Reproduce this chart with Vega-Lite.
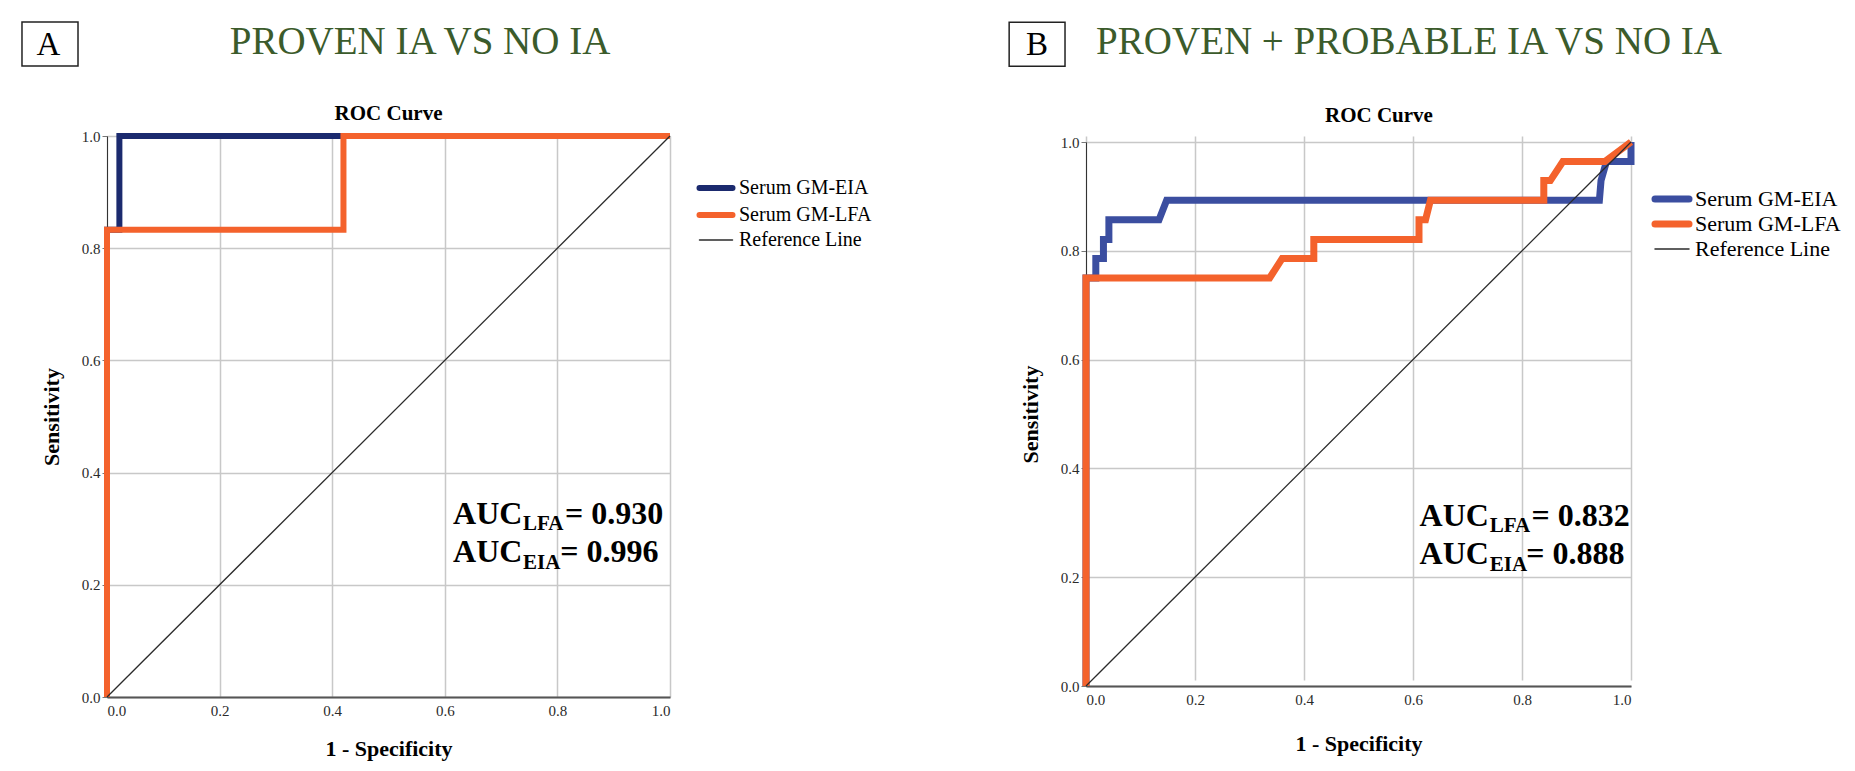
{
  "$schema": "https://vega.github.io/schema/vega-lite/v6.json",
  "background": "white",
  "padding": {"left": 21, "top": 21, "right": 5, "bottom": 5},
  "config": {
    "font": "Liberation Serif",
    "view": {"stroke": null},
    "axis": {
      "labelFont": "Liberation Serif",
      "labelFontSize": 15,
      "labelColor": "#2a2a2a",
      "titleFont": "Liberation Serif",
      "titleFontSize": 22,
      "titleFontWeight": "bold",
      "titleColor": "#000000",
      "gridColor": "#c8c8c8",
      "gridWidth": 1.5
    },
    "legend": {
      "labelFont": "Liberation Serif",
      "labelColor": "#000000",
      "labelLimit": 0
    }
  },
  "datasets": {
    "rocA": [
      {"series": "Serum GM-EIA", "step": 0, "fpr": 0, "tpr": 0},
      {"series": "Serum GM-EIA", "step": 1, "fpr": 0, "tpr": 0.833},
      {"series": "Serum GM-EIA", "step": 2, "fpr": 0.022, "tpr": 0.833},
      {"series": "Serum GM-EIA", "step": 3, "fpr": 0.022, "tpr": 1},
      {"series": "Serum GM-EIA", "step": 4, "fpr": 1, "tpr": 1},
      {"series": "Serum GM-LFA", "step": 0, "fpr": 0, "tpr": 0},
      {"series": "Serum GM-LFA", "step": 1, "fpr": 0, "tpr": 0.833},
      {"series": "Serum GM-LFA", "step": 2, "fpr": 0.42, "tpr": 0.833},
      {"series": "Serum GM-LFA", "step": 3, "fpr": 0.42, "tpr": 1},
      {"series": "Serum GM-LFA", "step": 4, "fpr": 1, "tpr": 1},
      {"series": "Reference Line", "step": 0, "fpr": 0, "tpr": 0},
      {"series": "Reference Line", "step": 1, "fpr": 1, "tpr": 1}
    ],
    "rocB": [
      {"series": "Serum GM-EIA", "step": 0, "fpr": 0, "tpr": 0},
      {"series": "Serum GM-EIA", "step": 1, "fpr": 0, "tpr": 0.75},
      {"series": "Serum GM-EIA", "step": 2, "fpr": 0.018, "tpr": 0.75},
      {"series": "Serum GM-EIA", "step": 3, "fpr": 0.018, "tpr": 0.786},
      {"series": "Serum GM-EIA", "step": 4, "fpr": 0.032, "tpr": 0.786},
      {"series": "Serum GM-EIA", "step": 5, "fpr": 0.032, "tpr": 0.821},
      {"series": "Serum GM-EIA", "step": 6, "fpr": 0.042, "tpr": 0.821},
      {"series": "Serum GM-EIA", "step": 7, "fpr": 0.042, "tpr": 0.857},
      {"series": "Serum GM-EIA", "step": 8, "fpr": 0.134, "tpr": 0.857},
      {"series": "Serum GM-EIA", "step": 9, "fpr": 0.148, "tpr": 0.893},
      {"series": "Serum GM-EIA", "step": 10, "fpr": 0.942, "tpr": 0.893},
      {"series": "Serum GM-EIA", "step": 11, "fpr": 0.945, "tpr": 0.929},
      {"series": "Serum GM-EIA", "step": 12, "fpr": 0.955, "tpr": 0.964},
      {"series": "Serum GM-EIA", "step": 13, "fpr": 1, "tpr": 0.964},
      {"series": "Serum GM-EIA", "step": 14, "fpr": 1, "tpr": 1},
      {"series": "Serum GM-LFA", "step": 0, "fpr": 0, "tpr": 0},
      {"series": "Serum GM-LFA", "step": 1, "fpr": 0, "tpr": 0.75},
      {"series": "Serum GM-LFA", "step": 2, "fpr": 0.337, "tpr": 0.75},
      {"series": "Serum GM-LFA", "step": 3, "fpr": 0.36, "tpr": 0.786},
      {"series": "Serum GM-LFA", "step": 4, "fpr": 0.418, "tpr": 0.786},
      {"series": "Serum GM-LFA", "step": 5, "fpr": 0.418, "tpr": 0.821},
      {"series": "Serum GM-LFA", "step": 6, "fpr": 0.611, "tpr": 0.821},
      {"series": "Serum GM-LFA", "step": 7, "fpr": 0.611, "tpr": 0.857},
      {"series": "Serum GM-LFA", "step": 8, "fpr": 0.623, "tpr": 0.857},
      {"series": "Serum GM-LFA", "step": 9, "fpr": 0.632, "tpr": 0.893},
      {"series": "Serum GM-LFA", "step": 10, "fpr": 0.84, "tpr": 0.893},
      {"series": "Serum GM-LFA", "step": 11, "fpr": 0.84, "tpr": 0.929},
      {"series": "Serum GM-LFA", "step": 12, "fpr": 0.852, "tpr": 0.929},
      {"series": "Serum GM-LFA", "step": 13, "fpr": 0.875, "tpr": 0.964},
      {"series": "Serum GM-LFA", "step": 14, "fpr": 0.952, "tpr": 0.964},
      {"series": "Serum GM-LFA", "step": 15, "fpr": 1, "tpr": 1},
      {"series": "Reference Line", "step": 0, "fpr": 0, "tpr": 0},
      {"series": "Reference Line", "step": 1, "fpr": 1, "tpr": 1}
    ]
  },
  "concat": [
    {
      "width": 563,
      "height": 561,
      "layer": [
        {
          "data": {"name": "rocA"},
          "transform": [{"filter": {"field": "series", "equal": "Serum GM-EIA"}}],
          "mark": {"type": "line", "strokeWidth": 6, "strokeJoin": "miter"},
          "encoding": {
            "x": {"field": "fpr", "type": "quantitative", "title": "1 - Specificity",
                  "scale": {"domain": [0, 1], "nice": false},
                  "axis": {"values": [0, 0.2, 0.4, 0.6, 0.8, 1.0], "format": ".1f", "ticks": false, "labelPadding": 6, "titlePadding": 20, "domainColor": "#555555", "domainWidth": 2}},
            "y": {"field": "tpr", "type": "quantitative", "title": "Sensitivity",
                  "scale": {"domain": [0, 1], "nice": false},
                  "axis": {"values": [0, 0.2, 0.4, 0.6, 0.8, 1.0], "format": ".1f", "tickSize": 5, "tickColor": "#777777", "labelPadding": 2, "titlePadding": 18, "domainColor": "#333333", "domainWidth": 1}},
            "order": {"field": "step", "type": "quantitative"},
            "color": {"field": "series", "type": "nominal",
                      "scale": {"domain": ["Serum GM-EIA", "Serum GM-LFA", "Reference Line"], "range": ["#1b2a6e", "#f4622c", "#2b2b2b"]},
                      "legend": {"title": null, "orient": "none", "legendX": 599, "legendY": 42, "symbolType": "stroke", "symbolSize": 1089, "symbolStrokeWidth": 6, "labelFontSize": 20, "labelOffset": 13, "rowPadding": 3,
                                 "encode": {"symbols": {"update": {"strokeCap": {"value": "round"}, "strokeWidth": {"signal": "datum.value === 'Reference Line' ? 1.5 : 6"}}}}}}
          }
        },
        {
          "data": {"name": "rocA"},
          "transform": [{"filter": {"field": "series", "equal": "Serum GM-LFA"}}],
          "mark": {"type": "line", "strokeWidth": 6, "strokeJoin": "miter"},
          "encoding": {
            "x": {"field": "fpr", "type": "quantitative"},
            "y": {"field": "tpr", "type": "quantitative"},
            "order": {"field": "step", "type": "quantitative"},
            "color": {"field": "series", "type": "nominal"}
          }
        },
        {
          "data": {"name": "rocA"},
          "transform": [{"filter": {"field": "series", "equal": "Reference Line"}}],
          "mark": {"type": "line", "strokeWidth": 1.3},
          "encoding": {
            "x": {"field": "fpr", "type": "quantitative"},
            "y": {"field": "tpr", "type": "quantitative"},
            "order": {"field": "step", "type": "quantitative"},
            "color": {"field": "series", "type": "nominal"}
          }
        },
        {
          "data": {"values": [{}]},
          "mark": {"type": "rect", "fill": "white", "stroke": "#222222", "strokeWidth": 1.5},
          "encoding": {"x": {"datum": -0.151}, "x2": {"datum": -0.0515}, "y": {"datum": 1.2032}, "y2": {"datum": 1.1248}}
        },
        {
          "data": {"values": [{}]},
          "mark": {"type": "text", "text": "A", "fontSize": 33, "align": "center", "baseline": "alphabetic", "color": "#000000"},
          "encoding": {"x": {"datum": -0.1039}, "y": {"datum": 1.1444}}
        },
        {
          "data": {"values": [{}]},
          "mark": {"type": "text", "text": "PROVEN IA VS NO IA", "fontSize": 39, "align": "center", "baseline": "alphabetic", "color": "#3b5b2b"},
          "encoding": {"x": {"datum": 0.556}, "y": {"datum": 1.1462}}
        },
        {
          "data": {"values": [{}]},
          "mark": {"type": "text", "text": "ROC Curve", "fontSize": 21, "fontWeight": "bold", "align": "center", "baseline": "alphabetic", "color": "#000000"},
          "encoding": {"x": {"datum": 0.5}, "y": {"datum": 1.0287}}
        },
        {
          "data": {"values": [{}]},
          "mark": {"type": "text", "text": "AUC", "fontSize": 32, "fontWeight": "bold", "align": "left", "baseline": "alphabetic", "color": "#000000"},
          "encoding": {"x": {"datum": 0.6146}, "y": {"datum": 0.308}}
        },
        {
          "data": {"values": [{}]},
          "mark": {"type": "text", "text": "LFA", "fontSize": 21, "fontWeight": "bold", "align": "left", "baseline": "alphabetic", "color": "#000000"},
          "encoding": {"x": {"datum": 0.739}, "y": {"datum": 0.297}}
        },
        {
          "data": {"values": [{}]},
          "mark": {"type": "text", "text": "= 0.930", "fontSize": 32, "fontWeight": "bold", "align": "left", "baseline": "alphabetic", "color": "#000000"},
          "encoding": {"x": {"datum": 0.8135}, "y": {"datum": 0.308}}
        },
        {
          "data": {"values": [{}]},
          "mark": {"type": "text", "text": "AUC", "fontSize": 32, "fontWeight": "bold", "align": "left", "baseline": "alphabetic", "color": "#000000"},
          "encoding": {"x": {"datum": 0.6146}, "y": {"datum": 0.241}}
        },
        {
          "data": {"values": [{}]},
          "mark": {"type": "text", "text": "EIA", "fontSize": 21, "fontWeight": "bold", "align": "left", "baseline": "alphabetic", "color": "#000000"},
          "encoding": {"x": {"datum": 0.739}, "y": {"datum": 0.229}}
        },
        {
          "data": {"values": [{}]},
          "mark": {"type": "text", "text": "= 0.996", "fontSize": 32, "fontWeight": "bold", "align": "left", "baseline": "alphabetic", "color": "#000000"},
          "encoding": {"x": {"datum": 0.805}, "y": {"datum": 0.241}}
        }
      ]
    },
    {
      "width": 545,
      "height": 550,
      "layer": [
        {
          "data": {"name": "rocB"},
          "transform": [{"filter": {"field": "series", "equal": "Serum GM-EIA"}}],
          "mark": {"type": "line", "strokeWidth": 7, "strokeJoin": "miter"},
          "encoding": {
            "x": {"field": "fpr", "type": "quantitative", "title": "1 - Specificity",
                  "scale": {"domain": [0, 1], "nice": false},
                  "axis": {"values": [0, 0.2, 0.4, 0.6, 0.8, 1.0], "format": ".1f", "ticks": false, "labelPadding": 6, "titlePadding": 26, "domainColor": "#555555", "domainWidth": 2}},
            "y": {"field": "tpr", "type": "quantitative", "title": "Sensitivity",
                  "scale": {"domain": [0, 1], "nice": false, "range": [550, 6]},
                  "axis": {"values": [0, 0.2, 0.4, 0.6, 0.8, 1.0], "format": ".1f", "tickSize": 5, "tickColor": "#777777", "labelPadding": 2, "titlePadding": 18, "domainColor": "#333333", "domainWidth": 1}},
            "order": {"field": "step", "type": "quantitative"},
            "color": {"field": "series", "type": "nominal",
                      "scale": {"domain": ["Serum GM-EIA", "Serum GM-LFA", "Reference Line"], "range": ["#3b4ea0", "#f4622c", "#2b2b2b"]},
                      "legend": {"title": null, "orient": "none", "legendX": 575, "legendY": 52, "symbolType": "stroke", "symbolSize": 1156, "symbolStrokeWidth": 7, "labelFontSize": 22, "labelOffset": 12, "rowPadding": -3.5,
                                 "encode": {"symbols": {"update": {"strokeCap": {"value": "round"}, "strokeWidth": {"signal": "datum.value === 'Reference Line' ? 1.5 : 7"}}}}}}
          }
        },
        {
          "data": {"name": "rocB"},
          "transform": [{"filter": {"field": "series", "equal": "Serum GM-LFA"}}],
          "mark": {"type": "line", "strokeWidth": 7, "strokeJoin": "miter"},
          "encoding": {
            "x": {"field": "fpr", "type": "quantitative"},
            "y": {"field": "tpr", "type": "quantitative"},
            "order": {"field": "step", "type": "quantitative"},
            "color": {"field": "series", "type": "nominal"}
          }
        },
        {
          "data": {"name": "rocB"},
          "transform": [{"filter": {"field": "series", "equal": "Reference Line"}}],
          "mark": {"type": "line", "strokeWidth": 1.3},
          "encoding": {
            "x": {"field": "fpr", "type": "quantitative"},
            "y": {"field": "tpr", "type": "quantitative"},
            "order": {"field": "step", "type": "quantitative"},
            "color": {"field": "series", "type": "nominal"}
          }
        },
        {
          "data": {"values": [{}]},
          "mark": {"type": "rect", "fill": "white", "stroke": "#222222", "strokeWidth": 1.5},
          "encoding": {"x": {"datum": -0.141}, "x2": {"datum": -0.0385}, "y": {"datum": 1.2200}, "y2": {"datum": 1.1392}}
        },
        {
          "data": {"values": [{}]},
          "mark": {"type": "text", "text": "B", "fontSize": 33, "align": "center", "baseline": "alphabetic", "color": "#000000"},
          "encoding": {"x": {"datum": -0.0897}, "y": {"datum": 1.1594}}
        },
        {
          "data": {"values": [{}]},
          "mark": {"type": "text", "text": "PROVEN + PROBABLE IA VS NO IA", "fontSize": 39, "align": "center", "baseline": "alphabetic", "color": "#3b5b2b"},
          "encoding": {"x": {"datum": 0.5927}, "y": {"datum": 1.1612}}
        },
        {
          "data": {"values": [{}]},
          "mark": {"type": "text", "text": "ROC Curve", "fontSize": 21, "fontWeight": "bold", "align": "center", "baseline": "alphabetic", "color": "#000000"},
          "encoding": {"x": {"datum": 0.5376}, "y": {"datum": 1.036}}
        },
        {
          "data": {"values": [{}]},
          "mark": {"type": "text", "text": "AUC", "fontSize": 32, "fontWeight": "bold", "align": "left", "baseline": "alphabetic", "color": "#000000"},
          "encoding": {"x": {"datum": 0.612}, "y": {"datum": 0.294}}
        },
        {
          "data": {"values": [{}]},
          "mark": {"type": "text", "text": "LFA", "fontSize": 21, "fontWeight": "bold", "align": "left", "baseline": "alphabetic", "color": "#000000"},
          "encoding": {"x": {"datum": 0.741}, "y": {"datum": 0.283}}
        },
        {
          "data": {"values": [{}]},
          "mark": {"type": "text", "text": "= 0.832", "fontSize": 32, "fontWeight": "bold", "align": "left", "baseline": "alphabetic", "color": "#000000"},
          "encoding": {"x": {"datum": 0.8176}, "y": {"datum": 0.294}}
        },
        {
          "data": {"values": [{}]},
          "mark": {"type": "text", "text": "AUC", "fontSize": 32, "fontWeight": "bold", "align": "left", "baseline": "alphabetic", "color": "#000000"},
          "encoding": {"x": {"datum": 0.612}, "y": {"datum": 0.224}}
        },
        {
          "data": {"values": [{}]},
          "mark": {"type": "text", "text": "EIA", "fontSize": 21, "fontWeight": "bold", "align": "left", "baseline": "alphabetic", "color": "#000000"},
          "encoding": {"x": {"datum": 0.741}, "y": {"datum": 0.212}}
        },
        {
          "data": {"values": [{}]},
          "mark": {"type": "text", "text": "= 0.888", "fontSize": 32, "fontWeight": "bold", "align": "left", "baseline": "alphabetic", "color": "#000000"},
          "encoding": {"x": {"datum": 0.808}, "y": {"datum": 0.224}}
        }
      ]
    }
  ],
  "columns": 2,
  "spacing": 136,
  "align": "none",
  "bounds": "full",
  "resolve": {"scale": {"color": "independent", "x": "independent", "y": "independent"}, "legend": {"color": "independent"}}
}
